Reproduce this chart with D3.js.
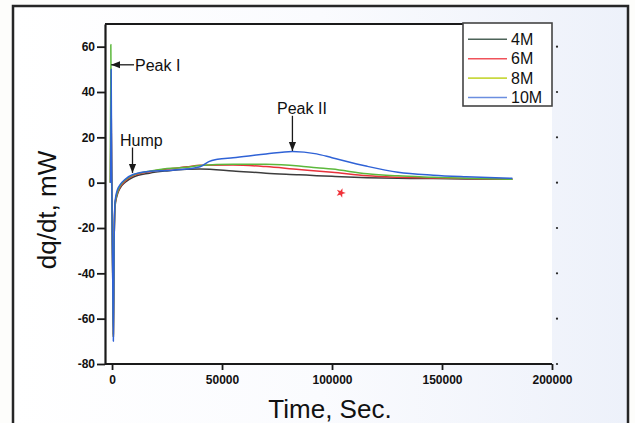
<!DOCTYPE html>
<html>
<head>
    <meta charset="utf-8">
    <title>dq/dt vs time</title>
    <script src="https://cdn.jsdelivr.net/npm/d3@7"></script>
    <style>
    body { margin:0; background:#fff; }
    text { font-family: Arial, "Liberation Sans", sans-serif; fill:#111; }
    </style>
</head>
<body>
</body>
<script type="text/javascript">

// data: [time in sec, dq/dt in mW]
const seriesNames = ["4M","6M","8M","10M"];
const seriesColors = ["#3d3d3d","#e8323c","#5cb83c","#2f62d6"];
const legendColors = ["#4d6358","#f0525a","#c8d840","#6b8ee0"];

const curve4M = [[-700,0],[-450,32],[-200,6],[300,-40],[600,-67],[900,-30],[1400,-10],[2500,-5],[3600,-2.5],[6000,0.2],[9500,2.4],[17000,4.2],[25000,5.2],[34000,5.9],[40000,6],[55000,5.2],[70000,4.2],[85000,3.5],[93000,3.1],[100000,2.8],[116000,2.2],[130000,1.9],[146000,1.8],[161000,1.6],[182000,1.5]];
const curve6M = [[-700,0],[-450,42],[-200,6],[300,-40],[600,-68],[900,-30],[1400,-9],[2500,-4.5],[3600,-2],[6000,0.8],[9500,3],[17000,4.8],[25000,6],[34000,7],[40000,7.7],[55000,7.8],[70000,7.1],[85000,5.8],[93000,5.2],[100000,4.6],[116000,3],[130000,2.4],[146000,2.1],[161000,1.8],[182000,1.5]];
const curve8M = [[-800,0],[-550,61],[-250,8],[300,-40],[600,-68],[900,-30],[1400,-9],[2500,-4],[3600,-1.5],[6000,1.2],[9500,3.3],[17000,5],[25000,6.2],[34000,6.8],[40000,7.6],[55000,8.1],[70000,8.1],[85000,7.4],[93000,6.6],[100000,6],[116000,3.9],[130000,3],[146000,2.4],[161000,1.9],[182000,1.5]];
const curve10M = [[-600,0],[-400,50],[-200,10],[300,-40],[600,-70],[900,-30],[1400,-8],[2500,-3],[3600,-1],[6000,1.5],[9500,3.6],[17000,5],[25000,5.4],[34000,6],[40000,7],[44000,9.3],[48000,10.3],[55000,11],[70000,12.7],[82000,13.8],[93000,12.7],[100000,11],[116000,7.2],[130000,4.6],[146000,3.3],[161000,2.6],[182000,1.9]];
const allCurves = [curve4M, curve6M, curve8M, curve10M];

const xTicks = [0,50000,100000,150000,200000];
const yTicks = [-80,-60,-40,-20,0,20,40,60];

const W = 635, H = 423;
const svg = d3.select("body").append("svg").attr("width",W).attr("height",H);

// scanned-page background, slightly blue on the right
const defs = svg.append("defs");
const grad = defs.append("linearGradient").attr("id","bg").attr("x1","0").attr("x2","1");
grad.append("stop").attr("offset","0").attr("stop-color","#ffffff");
grad.append("stop").attr("offset","0.5").attr("stop-color","#fafbfe");
grad.append("stop").attr("offset","1").attr("stop-color","#edf1fa");
svg.append("rect").attr("width",W).attr("height",H).attr("fill","#fdfdfb");
svg.append("rect").attr("x",13).attr("y",6).attr("width",615).attr("height",430)
    .attr("fill","url(#bg)").attr("stroke","#262626").attr("stroke-width",2.5);

// plot dimensions
const pLeft = 105, pRight = 552, pTop = 24, pBottom = 364;
svg.append("rect").attr("x",pLeft).attr("y",pTop).attr("width",pRight-pLeft).attr("height",pBottom-pTop).attr("fill","#fff");

const x = d3.scaleLinear().domain([-3200,200000]).range([pLeft,pRight]);
const y = d3.scaleLinear().domain([-80,70]).range([pBottom,pTop]);

// curves
const line = d3.line().x(d => x(d[0])).y(d => y(d[1])).curve(d3.curveMonotoneX);
const graphics = svg.append("g");
allCurves.forEach(function(c,i){
    graphics.append("path")
        .attr("d",line(c))
        .attr("fill","none")
        .attr("stroke",seriesColors[i])
        .attr("stroke-width",1.5)
        .attr("stroke-linejoin","round");
});

// axes
const plain = d => String(d);
const xAxis = d3.axisBottom(x).tickValues(xTicks).tickFormat(plain).tickSize(6).tickPadding(5).tickSizeOuter(0);
const yAxis = d3.axisLeft(y).tickValues(yTicks).tickFormat(plain).tickSize(8).tickPadding(2).tickSizeOuter(0);
const gx = svg.append("g").attr("transform","translate(0,"+pBottom+")").call(xAxis);
const gy = svg.append("g").attr("transform","translate("+pLeft+",0)").call(yAxis);
[gx,gy].forEach(function(g){
    g.select(".domain").attr("stroke","#1a1a1a").attr("stroke-width",2.2);
    g.selectAll(".tick line").attr("stroke","#1a1a1a").attr("stroke-width",1.8);
    g.selectAll(".tick text").attr("font-size",12).attr("font-weight","bold").attr("fill","#222")
        .attr("font-family","Arial, 'Liberation Sans', sans-serif");
});
gx.select(".domain").attr("d","M"+pLeft+",0H"+pRight);
// top frame line
svg.append("line").attr("x1",pLeft).attr("x2",pRight).attr("y1",pTop).attr("y2",pTop)
    .attr("stroke","#1a1a1a").attr("stroke-width",2);
// right axis has faded in the scan: only the tick dots are left
svg.append("g").selectAll("circle").data(yTicks).join("circle")
    .attr("cx",pRight+5).attr("cy",d => y(d)).attr("r",1.1).attr("fill","#222");

// axis titles
svg.append("text").attr("x",330).attr("y",418).attr("text-anchor","middle")
    .attr("font-size",26).text("Time, Sec.");
svg.append("text").attr("transform","translate(56,210) rotate(-90)").attr("text-anchor","middle")
    .attr("font-size",26).text("dq/dt, mW");

// annotations
defs.append("marker").attr("id","arr").attr("viewBox","0 0 10 10").attr("refX",10).attr("refY",5)
    .attr("markerWidth",7).attr("markerHeight",7).attr("orient","auto-start-reverse")
    .append("path").attr("d","M0,1L10,5L0,9z").attr("fill","#1a1a1a");
const anno = svg.append("g");
function arrow(x1,y1,x2,y2){
    anno.append("line").attr("x1",x1).attr("y1",y1).attr("x2",x2).attr("y2",y2)
        .attr("stroke","#1a1a1a").attr("stroke-width",1.3).attr("marker-end","url(#arr)");
}
arrow(x(10000),y(52),x(-400),y(52));
anno.append("text").attr("x",x(10000)+1).attr("y",y(52)+6).attr("font-size",16).text("Peak I");
arrow(x(9300),y(15.5),x(9300),y(4.3));
anno.append("text").attr("x",x(3600)).attr("y",y(16.3)).attr("font-size",16).text("Hump");
arrow(x(82000),y(29.5),x(82000),y(14));
anno.append("text").attr("x",x(75000)).attr("y",y(30.3)).attr("font-size",16).text("Peak II");

// stray red ink spot on the scan
svg.append("path").attr("d",d3.symbol(d3.symbolStar,28)())
    .attr("transform","translate("+x(104000)+","+y(-4.5)+") rotate(20)")
    .attr("fill","#ee1c24").attr("opacity",0.9);

// legend
const lg = svg.append("g");
lg.append("rect").attr("x",463).attr("y",23).attr("width",89).attr("height",83)
    .attr("fill","#fff").attr("stroke","#444").attr("stroke-width",1.6);
seriesNames.forEach(function(n,i){
    const ly = 39.3 + i*19.4;
    lg.append("line").attr("x1",468).attr("x2",507).attr("y1",ly).attr("y2",ly)
        .attr("stroke",legendColors[i]).attr("stroke-width",1.6);
    lg.append("text").attr("x",511).attr("y",ly).attr("dy","0.36em").attr("font-size",16).text(n);
});

</script>
</html>
